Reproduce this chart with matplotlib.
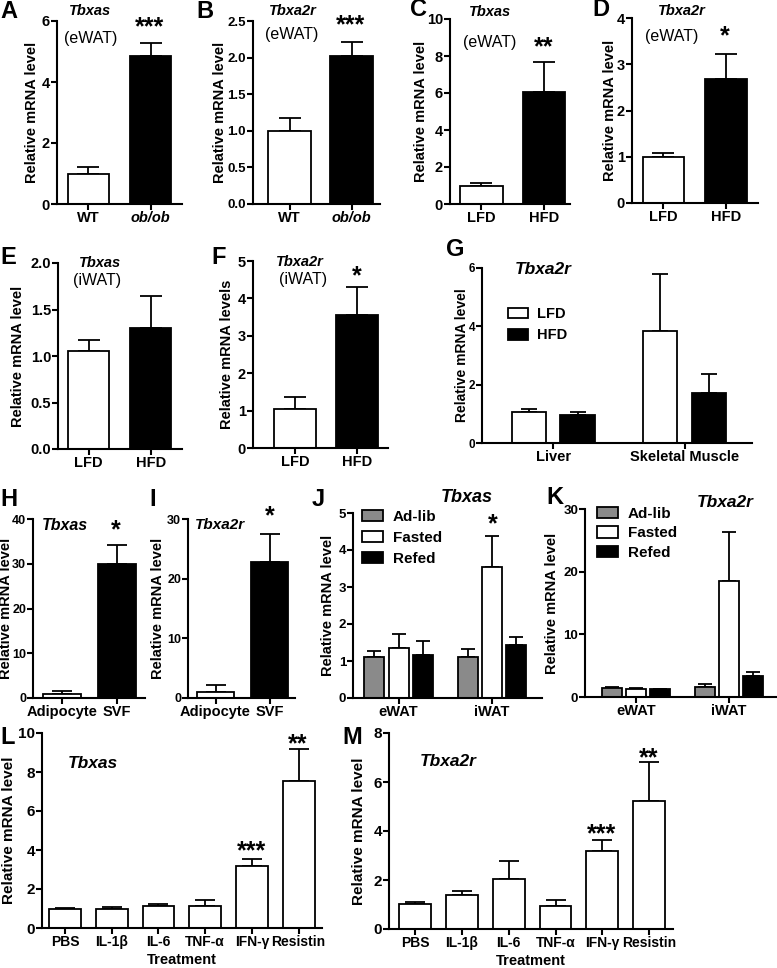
import matplotlib.pyplot as plt
from matplotlib.patches import Patch

plt.rcParams['font.family'] = ['Liberation Sans', 'DejaVu Sans']
plt.rcParams['font.weight'] = 'bold'
plt.rcParams['axes.labelweight'] = 'bold'

W, H = 777, 968

# ---- data (mean, SEM) ----
genotype = ['WT', 'ob/ob']
a_mean = [1.0, 4.85]
a_sem = [0.2, 0.43]
b_mean = [1.0, 2.02]
b_sem = [0.18, 0.19]

diet = ['LFD', 'HFD']
c_mean = [1.0, 6.05]
c_sem = [0.15, 1.6]
d_mean = [1.0, 2.68]
d_sem = [0.08, 0.54]
e_mean = [1.05, 1.3]
e_sem = [0.12, 0.35]
f_mean = [1.05, 3.55]
f_sem = [0.32, 0.75]

tissue = ['Liver', 'Skeletal Muscle']
g_lfd = [1.05, 3.85]
g_lfd_sem = [0.1, 1.95]
g_hfd = [0.95, 1.7]
g_hfd_sem = [0.12, 0.65]

cells = ['Adipocyte', 'SVF']
h_mean = [1.0, 30.0]
h_sem = [0.5, 4.2]
i_mean = [1.0, 22.8]
i_sem = [1.2, 4.7]

fat = ['eWAT', 'iWAT']
feeding = ['Ad-lib', 'Fasted', 'Refed']
j_adlib = [1.11, 1.12]
j_adlib_sem = [0.16, 0.2]
j_fasted = [1.36, 3.54]
j_fasted_sem = [0.36, 0.83]
j_refed = [1.15, 1.43]
j_refed_sem = [0.38, 0.21]
k_adlib = [1.42, 1.6]
k_adlib_sem = [0.2, 0.45]
k_fasted = [1.28, 18.5]
k_fasted_sem = [0.17, 7.8]
k_refed = [1.2, 3.3]
k_refed_sem = [0.15, 0.7]

treatments = ['PBS', 'IL-1β', 'IL-6', 'TNF-α', 'IFN-γ', 'Resistin']
l_mean = [1.0, 0.97, 1.12, 1.15, 3.2, 7.55]
l_sem = [0.05, 0.13, 0.1, 0.27, 0.35, 1.65]
m_mean = [1.03, 1.38, 2.03, 0.93, 3.2, 5.23]
m_sem = [0.07, 0.17, 0.74, 0.24, 0.45, 1.59]

GRAY = '#8a8a8a'
LW = 1.3

fig = plt.figure(figsize=(W / 100, H / 100), dpi=100)


def fx(px):
    return px / W


def fy(py):
    return 1 - py / H


def make_ax(rect, ytop, yticks, xlim, fmt, tsize=10.5):
    L, T, R, B = rect
    ax = fig.add_axes([fx(L), fy(B), (R - L) / W, (B - T) / H])
    for s in ['top', 'right']:
        ax.spines[s].set_visible(False)
    for s in ['left', 'bottom']:
        ax.spines[s].set_linewidth(1.5)
    ax.set_ylim(0, ytop)
    ax.set_xlim(*xlim)
    ax.set_yticks(yticks)
    ax.set_yticklabels([fmt.format(t) for t in yticks])
    ax.tick_params(width=1.5, length=4, labelsize=tsize, pad=1)
    return ax


def bars(ax, x, mean, sem, color, width, cap):
    ax.bar(x, mean, width, color=color, edgecolor='black', linewidth=LW, zorder=2)
    ax.errorbar(x, mean, yerr=[[0] * len(mean), sem], fmt='none', ecolor='black',
                elinewidth=LW, capsize=cap, capthick=LW, zorder=1)


def label(ax, text, xpx, size=10.5):
    # xpx is the centre of the rotated label; anchor is its right side
    ax.set_ylabel(text, fontsize=size)
    pos = ax.get_position()
    ax.yaxis.set_label_coords((fx(xpx + 0.5 * size * 1.39) - pos.x0) / pos.width, 0.5)


def txt(x, y, s, size=11, **kw):
    fig.text(fx(x), fy(y), s, ha='center', va='center', fontsize=size, **kw)


def stars(x, y, s):
    fig.text(fx(x), fy(y), s, ha='center', va='center', fontsize=18)


def letter(x, y, s):
    fig.text(fx(x), fy(y), s, ha='left', va='center', fontsize=17, fontweight='bold')


def cats(ax, pos, names, size=10.5):
    ax.set_xticks(pos)
    ax.set_xticklabels(names, fontsize=size)


def simple(rect, xlim, names, mean, sem, ytop, yticks, fmt, width, cap, ylab_x,
           ylab='Relative mRNA level', tsize=10.5, csize=10.5):
    ax = make_ax(rect, ytop, yticks, xlim, fmt, tsize)
    bars(ax, [0], mean[:1], sem[:1], 'white', width, cap)
    bars(ax, [1], mean[1:], sem[1:], 'black', width, cap)
    cats(ax, [0, 1], names, csize)
    label(ax, ylab, ylab_x)
    return ax


def legend(ax, colors, names, xpx, ypx, spacing, size=11):
    ax.legend(handles=[Patch(facecolor=c, edgecolor='black', linewidth=LW, label=n)
                       for c, n in zip(colors, names)],
              loc='upper left', bbox_to_anchor=(fx(xpx), fy(ypx)), bbox_transform=fig.transFigure,
              frameon=False, fontsize=size, handlelength=1.4, handleheight=0.75,
              handletextpad=0.6, labelspacing=spacing, borderpad=0, borderaxespad=0)


# ---- A ----
ax = simple((57, 21, 182, 204), (-0.5, 1.5), genotype, a_mean, a_sem, 6, [0, 2, 4, 6],
            '{:g}', 0.66, 8, 32)
ax.get_xticklabels()[1].set_fontstyle('italic')
letter(0, 12, 'A'); txt(90, 11, 'Tbxas', 10.5, style='italic'); txt(91, 38, '(eWAT)', 11.5, fontweight='normal')
stars(150, 27, '***')

# ---- B ----
ax = simple((253, 21, 380, 204), (-0.59, 1.46), genotype, b_mean, b_sem, 2.5,
            [0, 0.5, 1.0, 1.5, 2.0, 2.5], '{:.1f}', 0.68, 8, 220, tsize=9.5)
ax.get_xticklabels()[1].set_fontstyle('italic')
letter(196, 12, 'B'); txt(293, 11, 'Tbxa2r', 10.5, style='italic'); txt(292, 35, '(eWAT)', 11.5, fontweight='normal')
stars(351, 25, '***')

# ---- C ----
simple((450, 19, 570, 204), (-0.5, 1.42), diet, c_mean, c_sem, 10, [0, 2, 4, 6, 8, 10],
       '{:g}', 0.68, 8, 421)
letter(410, 10, 'C'); txt(490, 12, 'Tbxas', 10.5, style='italic'); txt(490, 42, '(eWAT)', 11.5, fontweight='normal')
stars(544, 47, '**')

# ---- D ----
simple((632, 18, 758, 203), (-0.5, 1.51), diet, d_mean, d_sem, 4, [0, 1, 2, 3, 4],
       '{:g}', 0.66, 8, 610)
letter(592, 10, 'D'); txt(682, 11, 'Tbxa2r', 10.5, style='italic'); txt(672, 37, '(eWAT)', 11.5, fontweight='normal')
stars(725, 36, '*')

# ---- E ----
simple((58, 263, 182, 449), (-0.49, 1.5), diet, e_mean, e_sem, 2.0,
       [0, 0.5, 1.0, 1.5, 2.0], '{:.1f}', 0.66, 8, 18)
letter(0, 257, 'E'); txt(100, 263, 'Tbxas', 10.5, style='italic'); txt(97, 281, '(iWAT)', 11.5, fontweight='normal')

# ---- F ----
simple((253, 261, 388, 448), (-0.67, 1.49), diet, f_mean, f_sem, 5, [0, 1, 2, 3, 4, 5],
       '{:g}', 0.67, 8, 227, ylab='Relative mRNA levels')
letter(211, 258, 'F'); txt(300, 262, 'Tbxa2r', 10.5, style='italic'); txt(303, 280, '(iWAT)', 11.5, fontweight='normal')
stars(357, 276, '*')

# ---- G ----
ax = make_ax((482, 268, 752, 443), 6, [0, 2, 4, 6], (-0.54, 1.51), '{:g}', 8.5)
bars(ax, [p - 0.186 for p in range(2)], g_lfd, g_lfd_sem, 'white', 0.26, 6)
bars(ax, [p + 0.186 for p in range(2)], g_hfd, g_hfd_sem, 'black', 0.26, 6)
cats(ax, [0, 1], tissue)
label(ax, 'Relative mRNA level', 462, 10)
legend(ax, ['white', 'black'], diet, 508, 307, 0.5, 10.5)
letter(446, 250, 'G'); txt(543, 270, 'Tbxa2r', 12.5, style='italic')

# ---- H ----
simple((33, 519, 145, 698), (-0.53, 1.51), cells, h_mean, h_sem, 40, [0, 10, 20, 30, 40],
       '{:g}', 0.69, 7, 6, tsize=9)
letter(0, 499, 'H'); txt(65, 525, 'Tbxas', 11.5, style='italic')
stars(116, 530, '*')

# ---- I ----
simple((188, 519, 295, 698), (-0.51, 1.47), cells, i_mean, i_sem, 30, [0, 10, 20, 30],
       '{:g}', 0.68, 7, 158, tsize=9)
letter(149, 499, 'I'); txt(220, 525, 'Tbxa2r', 11, style='italic')
stars(270, 516, '*')

# ---- J ----
ax = make_ax((353, 513, 542, 698), 5, [0, 1, 2, 3, 4, 5], (-0.49, 1.54), '{:g}', 9.5)
for off, col, m, s in [(-0.26, GRAY, j_adlib, j_adlib_sem), (0, 'white', j_fasted, j_fasted_sem),
                       (0.26, 'black', j_refed, j_refed_sem)]:
    bars(ax, [p + off for p in range(2)], m, s, col, 0.215, 5)
cats(ax, [0, 1], fat)
label(ax, 'Relative mRNA level', 328)
legend(ax, [GRAY, 'white', 'black'], feeding, 362, 510, 0.45)
letter(312, 499, 'J'); txt(467, 497, 'Tbxas', 13, style='italic')
stars(493, 524, '*')

# ---- K ----
ax = make_ax((585, 509, 777, 697), 30, [0, 10, 20, 30], (-0.55, 1.52), '{:g}', 9.5)
for off, col, m, s in [(-0.26, GRAY, k_adlib, k_adlib_sem), (0, 'white', k_fasted, k_fasted_sem),
                       (0.26, 'black', k_refed, k_refed_sem)]:
    bars(ax, [p + off for p in range(2)], m, s, col, 0.215, 5)
cats(ax, [0, 1], fat)
label(ax, 'Relative mRNA level', 552)
legend(ax, [GRAY, 'white', 'black'], feeding, 597, 507, 0.35)
letter(546, 498, 'K'); txt(725, 503, 'Tbxa2r', 12.5, style='italic')

# ---- L ----
ax = make_ax((42, 733, 322, 928), 10, [0, 2, 4, 6, 8, 10], (-0.49, 5.5), '{:g}', 11)
bars(ax, range(6), l_mean, l_sem, 'white', 0.68, 7)
cats(ax, range(6), treatments, 10)
ax.set_xlabel('Treatment', fontsize=10.5, labelpad=3)
label(ax, 'Relative mRNA level', 8, 11)
letter(0, 737, 'L'); txt(93, 763, 'Tbxas', 12.5, style='italic')
stars(252, 851, '***'); stars(298, 744, '**')

# ---- M ----
ax = make_ax((389, 733, 673, 929), 8, [0, 2, 4, 6, 8], (-0.56, 5.51), '{:g}', 11)
bars(ax, range(6), m_mean, m_sem, 'white', 0.68, 7)
cats(ax, range(6), treatments, 10)
ax.set_xlabel('Treatment', fontsize=10.5, labelpad=3)
label(ax, 'Relative mRNA level', 358, 11)
letter(342, 737, 'M'); txt(448, 762, 'Tbxa2r', 12.5, style='italic')
stars(602, 834, '***'); stars(649, 758, '**')

fig.savefig('out.png', dpi=100)
